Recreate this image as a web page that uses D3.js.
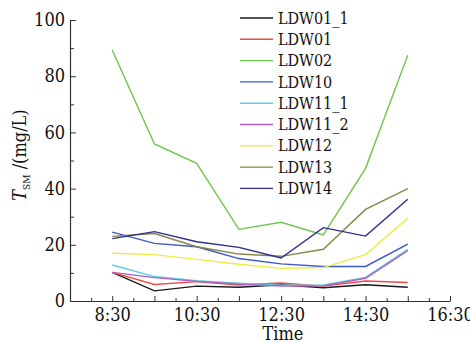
<!DOCTYPE html>
<html>
<head>
<meta charset="utf-8">
<script src="https://cdn.jsdelivr.net/npm/d3@7"></script>
<style>
  body { margin: 0; background: #fff; }
  svg text { font-family: "DejaVu Serif Condensed", "DejaVu Serif", serif; font-stretch: condensed; fill: #111; }
</style>
</head>
<body>
<svg id="chart" width="470" height="342"></svg>
<script>
// sampling times
const times = ["8:30", "9:30", "10:30", "11:30", "12:30", "13:30", "14:30", "15:30"];

// T_SM (mg/L) per station
const ldw01_1 = [10.2, 3.6, 5.3, 4.9, 5.8, 4.7, 5.8, 4.9];
const ldw01   = [10.2, 5.9, 6.9, 5.7, 6.4, 5.3, 7.1, 6.6];
const ldw02   = [89.3, 55.9, 49.0, 25.5, 28.0, 23.5, 47.2, 87.5];
const ldw10   = [24.5, 20.5, 19.3, 15.1, 13.2, 12.3, 12.3, 20.2];
const ldw11_1 = [12.8, 8.7, 7.2, 6.3, 5.6, 5.7, 8.4, 18.4];
const ldw11_2 = [10.2, 8.3, 7.0, 6.0, 5.3, 5.4, 8.1, 17.9];
const ldw12   = [17.0, 16.5, 14.8, 13.1, 11.6, 11.9, 16.5, 29.5];
const ldw13   = [23.0, 24.0, 19.3, 16.7, 15.9, 18.4, 32.6, 40.0];
const ldw14   = [22.2, 24.7, 21.1, 19.1, 15.3, 26.1, 23.1, 36.2];

const seriesNames = ["LDW01_1", "LDW01", "LDW02", "LDW10", "LDW11_1", "LDW11_2", "LDW12", "LDW13", "LDW14"];
const seriesValues = [ldw01_1, ldw01, ldw02, ldw10, ldw11_1, ldw11_2, ldw12, ldw13, ldw14];
const seriesColors = ["#1a1a1a", "#f24848", "#6cc64a", "#3a58c8", "#5fcde0", "#b15fc0", "#ecec48", "#86864a", "#2c2c92"];

const xLabels = ["8:30", "10:30", "12:30", "14:30", "16:30"];
const yTicks = [0, 20, 40, 60, 80, 100];

const parse = d3.timeParse("%H:%M");
const svg = d3.select("#chart");

const x = d3.scaleTime()
  .domain([parse("7:30"), parse("16:30")])
  .range([70, 450]);
const y = d3.scaleLinear()
  .domain([0, 100])
  .range([301, 20]);

// x axis: ticks every 30 min, labels every 2 hours
const fmt = d3.timeFormat("%-H:%M");
const xTickVals = d3.timeMinute.range(parse("7:30"), parse("16:31"), 30);
const xAxis = svg.append("g")
  .attr("transform", `translate(0,${y(0)})`)
  .call(d3.axisBottom(x)
    .tickValues(xTickVals)
    .tickSizeInner(-4)
    .tickSizeOuter(0)
    .tickPadding(7)
    .tickFormat(d => xLabels.includes(fmt(d)) ? fmt(d) : ""));
xAxis.selectAll(".tick line").attr("y2", d => d.getMinutes() === 30 ? -5 : -3);

// y axis: majors at 20, minors at 10
const yAxis = svg.append("g")
  .attr("transform", `translate(${x(parse("7:30"))},0)`)
  .call(d3.axisLeft(y)
    .tickValues(d3.range(0, 101, 10))
    .tickSizeInner(-6)
    .tickSizeOuter(0)
    .tickPadding(5)
    .tickFormat(d => yTicks.includes(d) ? d : ""));
yAxis.selectAll(".tick line").attr("x2", d => d % 20 === 0 ? 6 : 4);

[xAxis, yAxis].forEach(a => {
  a.select(".domain").attr("stroke", "#333").attr("stroke-width", 1.2);
  a.selectAll(".tick line").attr("stroke", "#333");
  a.selectAll("text").style("font-size", "18px").attr("fill", "#111");
});

// lines
const line = d3.line()
  .x((d, i) => x(parse(times[i])))
  .y(d => y(d));

svg.append("g").selectAll("path")
  .data(seriesValues)
  .enter()
  .append("path")
  .attr("fill", "none")
  .attr("stroke", (d, i) => seriesColors[i])
  .attr("stroke-width", 1.4)
  .attr("d", line);

// legend
const legend = svg.append("g").selectAll("g")
  .data(seriesNames)
  .enter()
  .append("g")
  .attr("transform", (d, i) => `translate(240,${18 + i * 21.3})`);
legend.append("line")
  .attr("x1", 0).attr("x2", 33)
  .attr("stroke", (d, i) => seriesColors[i])
  .attr("stroke-width", 1.4);
legend.append("text")
  .attr("x", 38)
  .attr("dy", "0.35em")
  .style("font-size", "16px")
  .text(d => d);

// axis titles
svg.append("text")
  .attr("x", 283)
  .attr("y", 340)
  .attr("text-anchor", "middle")
  .style("font-size", "18px")
  .text("Time");

const yt = svg.append("text")
  .attr("transform", "translate(26,155) rotate(-90)")
  .attr("text-anchor", "middle")
  .style("font-size", "18px");
yt.append("tspan").style("font-style", "italic").text("T");
yt.append("tspan").attr("dy", 4).style("font-size", "10px").text("SM");
yt.append("tspan").attr("dy", -4).text(" /(mg/L)");
</script>
</body>
</html>
